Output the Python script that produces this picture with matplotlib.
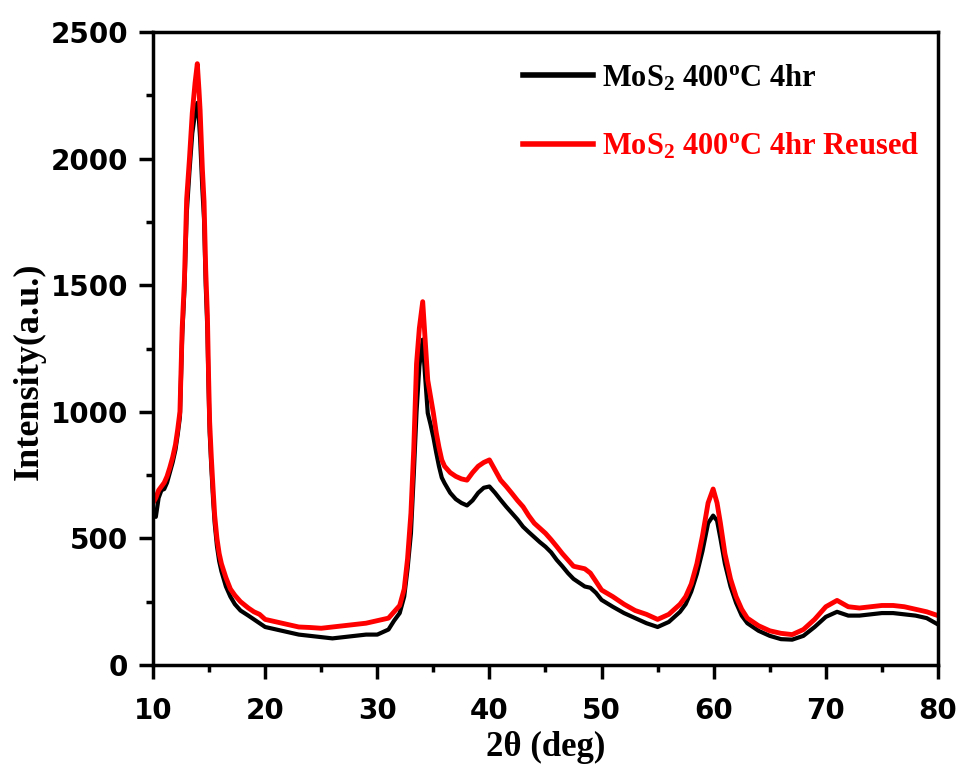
import matplotlib
matplotlib.use('Agg')
import matplotlib.pyplot as plt
from matplotlib.ticker import MultipleLocator

plt.rcParams['mathtext.fontset'] = 'custom'
plt.rcParams['mathtext.rm'] = 'Liberation Serif:bold'
plt.rcParams['mathtext.it'] = 'Liberation Serif:bold'
plt.rcParams['mathtext.bf'] = 'Liberation Serif:bold'

two_theta = [10.0, 10.25, 10.5, 10.75, 11.0, 11.25, 11.5, 11.75, 12.0, 12.2, 12.4, 12.6, 12.8,
             13.0, 13.25, 13.5, 13.75, 13.95, 14.1, 14.2, 14.4, 14.55, 14.7, 14.85, 14.95,
             15.05, 15.2, 15.35, 15.5, 15.7, 15.9, 16.1, 16.5, 16.9, 17.3, 17.8, 18.5, 19.0,
             19.5, 20, 21, 22, 23, 24, 25, 26, 27, 28, 29, 30, 31, 31.5, 32, 32.4, 32.7, 33,
             33.25, 33.5, 33.75, 34.05, 34.25, 34.5, 34.75, 35, 35.25, 35.5, 35.75, 36, 36.5,
             37, 37.5, 38, 38.5, 39, 39.5, 40, 40.5, 41, 41.5, 42, 42.5, 43, 43.5, 44, 44.5,
             45, 45.5, 46, 46.5, 47, 47.5, 48, 48.5, 49, 49.5, 50, 51, 52, 53, 54, 55, 56, 57,
             57.5, 58, 58.5, 59, 59.5, 59.95, 60.3, 60.6, 61, 61.5, 62, 62.5, 63, 64, 65, 66,
             67, 68, 69, 70, 71, 72, 73, 74, 75, 76, 77, 78, 79, 80]

fresh = [600, 585, 660, 690, 695, 720, 760, 800, 850, 910, 980, 1300, 1480,
         1780, 1950, 2100, 2180, 2220, 2150, 2080, 1880, 1760, 1500, 1320, 1100,
         920, 780, 660, 560, 470, 410, 370, 310, 270, 240, 215, 195, 180,
         165, 150, 140, 130, 120, 115, 110, 105, 110, 115, 120, 120, 140, 175, 205, 270, 380, 520,
         750, 1000, 1180, 1285, 1150, 995, 950, 900, 840, 785, 740, 718, 680,
         655, 640, 630, 650, 680, 700, 705, 680, 652, 625, 600, 575, 546, 525, 505, 485,
         467, 445, 415, 390, 363, 340, 325, 310, 305, 285, 257, 230, 205, 185, 165, 150, 170, 210,
         240, 290, 360, 450, 560, 590, 570, 500, 400, 310, 245, 195, 165, 135, 115, 102,
         100, 115, 150, 190, 210, 195, 195, 200, 205, 205, 200, 195, 185, 160]

reused = [640, 660, 690, 705, 720, 745, 780, 820, 870, 930, 1000, 1330, 1520,
          1840, 2000, 2180, 2300, 2375, 2270, 2190, 1960, 1830, 1560, 1380, 1150,
          960, 820, 700, 590, 500, 440, 400, 345, 300, 275, 250, 225, 210,
          200, 180, 170, 160, 150, 148, 145, 150, 155, 160, 165, 175, 185, 210, 235, 300, 420, 600,
          850, 1190, 1330, 1435, 1300, 1125, 1060, 995, 920, 860, 810, 785, 760,
          745, 735, 730, 760, 785, 800, 810, 770, 730, 705, 678, 650, 625, 590, 560, 540,
          520, 495, 468, 440, 415, 390, 385, 380, 363, 330, 296, 270, 240, 215, 200, 180, 200, 240,
          270, 320, 400, 510, 640, 695, 640, 560, 440, 340, 270, 220, 185, 155, 135, 125,
          120, 140, 180, 230, 255, 230, 225, 230, 235, 235, 230, 220, 210, 195]

fig = plt.figure(figsize=(9.63, 7.70), dpi=100)
ax = fig.add_axes([0.1589, 0.1364, 0.8151, 0.822])

ax.plot(two_theta, fresh, color='black', lw=3, label=r'MoS$_2$ 400$^\mathrm{o}$C 4hr')
ax.plot(two_theta, reused, color='#ff0000', lw=3.5, label=r'MoS$_2$ 400$^\mathrm{o}$C 4hr Reused')

ax.set_xlim(10, 80)
ax.set_ylim(0, 2500)
ax.xaxis.set_major_locator(MultipleLocator(10))
ax.xaxis.set_minor_locator(MultipleLocator(5))
ax.yaxis.set_major_locator(MultipleLocator(500))
ax.yaxis.set_minor_locator(MultipleLocator(250))
ax.tick_params(which='major', direction='out', length=10, width=2.5, labelsize=20)
ax.tick_params(which='minor', direction='out', length=5, width=2.5)
ax.tick_params(axis='x', pad=13)
ax.tick_params(axis='y', pad=8)
for lbl in ax.get_xticklabels() + ax.get_yticklabels():
    lbl.set_family('DejaVu Sans')
    lbl.set_fontweight('bold')
for sp in ax.spines.values():
    sp.set_linewidth(2.5)

ax.set_xlabel('2θ (deg)', family='Liberation Serif', weight='bold', fontsize=25)
ax.set_ylabel('Intensity(a.u.)', family='Liberation Serif', weight='bold', fontsize=26)
ax.xaxis.set_label_coords(0.5, -0.105)
ax.yaxis.set_label_coords(-0.137, 0.464)

leg = ax.legend(loc='upper right', bbox_to_anchor=(0.992, 0.971), frameon=False,
                handlelength=2.3, handletextpad=0.3, labelspacing=1.25, borderaxespad=0.0,
                prop={'family': 'Liberation Serif', 'weight': 'bold', 'size': 22})
for txt, col in zip(leg.get_texts(), ['black', '#ff0000']):
    txt.set_color(col)
for ln in leg.get_lines():
    ln.set_linewidth(4)

fig.savefig('out.png', dpi=100)
